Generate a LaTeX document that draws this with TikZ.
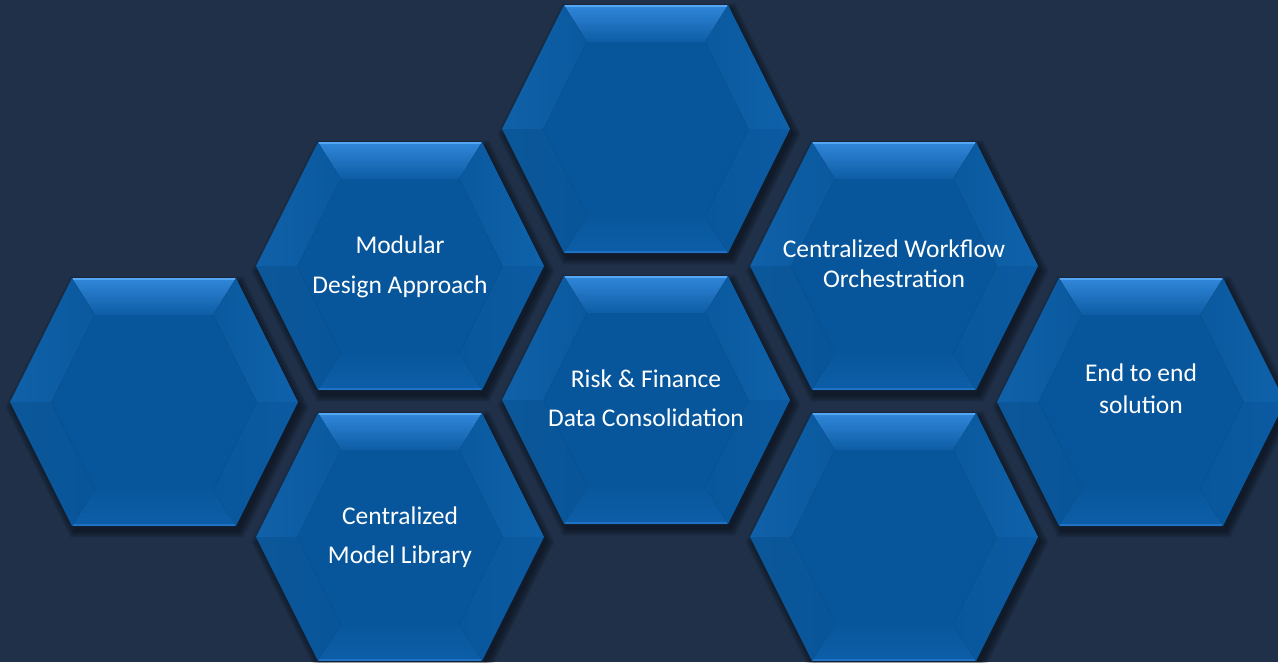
\documentclass[tikz,border=0pt]{standalone}
\usepackage{fontspec}
\setmainfont{Carlito}
\begin{document}
\begin{tikzpicture}[x=1pt,y=-1pt]
  \definecolor{bgnavy}{HTML}{1F3048}
  \definecolor{face}{HTML}{07569B}
  \definecolor{bevtopA}{HTML}{3187DA}
  \definecolor{bevtopB}{HTML}{0D5DA5}
  \definecolor{bevhi}{HTML}{55A6F2}
  \definecolor{bevulA}{HTML}{1061A9}
  \definecolor{bevulB}{HTML}{0A599F}
  \definecolor{bevurA}{HTML}{0A599F}
  \definecolor{bevurB}{HTML}{0F62AA}
  \definecolor{bevllA}{HTML}{0B5799}
  \definecolor{bevllB}{HTML}{08559A}
  \definecolor{bevlrA}{HTML}{08579C}
  \definecolor{bevlrB}{HTML}{0C5BA2}
  \definecolor{bevbotA}{HTML}{08579D}
  \definecolor{bevbotB}{HTML}{0D5EA8}
  \definecolor{bevlo}{HTML}{1E71C3}
  \tikzset{
    lbl/.style={text=white, font=\fontsize{25.5}{30}\selectfont, anchor=base, inner sep=0pt},
    % one bevelled hexagon: soft drop shadow, six bevel facets and the inset face
    hexcell/.pic={
      \foreach \k in {0,...,6}
        \fill[black, opacity=0.07, shift={(3,5)}, scale=1+0.009*\k]
          (-82,-124) -- (82,-124) -- (144,0) -- (82,124) -- (-82,124) -- (-144,0) -- cycle;
      % top facet
      \shade[top color=bevtopA, bottom color=bevtopB]
        (-82,-124) -- (82,-124) -- (59,-87) -- (-59,-87) -- cycle;
      % upper-left facet
      \shade[left color=bevulA, right color=bevulB]
        (-82,-124) -- (-59,-87) -- (-102.6,0) -- (-144,0) -- cycle;
      % upper-right facet
      \shade[left color=bevurA, right color=bevurB]
        (82,-124) -- (144,0) -- (102.6,0) -- (59,-87) -- cycle;
      % lower-left facet
      \shade[left color=bevllA, right color=bevllB]
        (-144,0) -- (-102.6,0) -- (-59,87) -- (-82,124) -- cycle;
      % lower-right facet
      \shade[left color=bevlrA, right color=bevlrB]
        (144,0) -- (82,124) -- (59,87) -- (102.6,0) -- cycle;
      % bottom facet
      \shade[top color=bevbotA, bottom color=bevbotB]
        (-82,124) -- (-59,87) -- (59,87) -- (82,124) -- cycle;
      % inset face
      \fill[face] (-59,-87) -- (59,-87) -- (102.6,0) -- (59,87) -- (-59,87) -- (-102.6,0) -- cycle;
      % edge highlights
      \draw[bevhi, line width=1.8pt] (-81,-123) -- (81,-123);
      \draw[bevlo, line width=1.2pt] (-81,123) -- (81,123);
    }
  }

  \useasboundingbox (0,0) rectangle (1278,662);
  \clip (0,0) rectangle (1278,662);
  \fill[bgnavy] (0,0) rectangle (1278,662);

  % honeycomb
  \pic (hleft)    at (154,402) {hexcell};
  \pic (hmodular) at (400,266) {hexcell};
  \pic (hlibrary) at (400,537) {hexcell};
  \pic (htop)     at (646,129) {hexcell};
  \pic (hrisk)    at (646,400) {hexcell};
  \pic (hflow)    at (894,266) {hexcell};
  \pic (hlower)   at (894,537) {hexcell};
  \pic (hend)     at (1141,402) {hexcell};

  % labels
  \node[lbl] (modA)  at (400,253) {Modular};
  \node[lbl] (modB)  at (400,293) {Design Approach};
  \node[lbl] (libA)  at (400,524) {Centralized};
  \node[lbl] (libB)  at (400,563) {Model Library};
  \node[lbl] (riskA) at (646,387) {Risk \& Finance};
  \node[lbl] (riskB) at (646,426) {Data Consolidation};
  \node[lbl] (flowA) at (894,257) {Centralized Workflow};
  \node[lbl] (flowB) at (894,287) {Orchestration};
  \node[lbl] (endA)  at (1141,381) {End to end};
  \node[lbl] (endB)  at (1141,413) {solution};
\end{tikzpicture}
\end{document}
